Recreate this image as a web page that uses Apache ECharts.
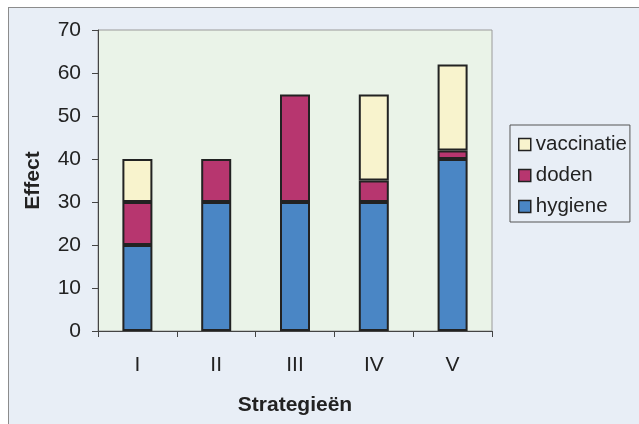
<!DOCTYPE html>
<html>
<head>
<meta charset="utf-8">
<script src="https://cdn.jsdelivr.net/npm/echarts@6/dist/echarts.min.js"></script>
<style>
  html, body { margin: 0; padding: 0; background: #ffffff; }
  #frame { position: absolute; left: 8px; top: 7px; width: 660px; height: 440px;
           background: #e8eef6; border: 1px solid #8c8c8c; box-sizing: border-box; }
  #chart { position: absolute; left: 0; top: 0; width: 639px; height: 424px; }
</style>
</head>
<body>
<div id="frame"></div>
<div id="chart"></div>
<script>
const categories = ['I', 'II', 'III', 'IV', 'V'];
const hygiene = [20, 30, 30, 30, 40];
const doden = [10, 10, 25, 5, 2];
const vaccinatie = [10, 0, 0, 20, 20];
const yTicks = { min: 0, max: 70, interval: 10 };

const FONT = "'Liberation Sans', Arial, sans-serif";
const chart = echarts.init(document.getElementById('chart'), null, { renderer: 'canvas' });

function barSeries(name, data, color) {
  return {
    name: name,
    type: 'bar',
    stack: 'total',
    data: data.map(v => v === 0 ? null : v),
    barWidth: 30,
    itemStyle: { color: color, borderColor: '#222222', borderWidth: 2 },
    emphasis: { disabled: true }
  };
}

chart.setOption({
  animation: false,
  textStyle: { fontFamily: FONT },
  grid: {
    left: 98, top: 30, width: 394, height: 301,
    show: true, backgroundColor: '#eaf3e8', borderColor: '#9a9a9a', borderWidth: 1
  },
  legend: {
    orient: 'vertical',
    left: 510, top: 125,
    data: ['vaccinatie', 'doden', 'hygiene'],
    icon: 'rect',
    itemWidth: 12, itemHeight: 12,
    itemGap: 10,
    padding: [9, 3, 5, 8],
    borderColor: '#555555', borderWidth: 1,
    backgroundColor: '#e8eef6',
    textStyle: { fontSize: 20.5, color: '#222222', fontFamily: FONT },
    itemStyle: { borderColor: '#222222', borderWidth: 1.5 }
  },
  xAxis: {
    type: 'category',
    data: categories,
    name: 'Strategieën',
    nameLocation: 'middle',
    nameGap: 64,
    nameTextStyle: { fontSize: 21, fontWeight: 'bold', color: '#222222', fontFamily: FONT },
    axisLine: { lineStyle: { color: '#444444', width: 1 } },
    axisTick: { show: true, length: 6, lineStyle: { color: '#444444' } },
    axisLabel: { fontSize: 21, color: '#222222', margin: 24, fontFamily: FONT }
  },
  yAxis: {
    type: 'value',
    min: yTicks.min, max: yTicks.max, interval: yTicks.interval,
    name: 'Effect',
    nameLocation: 'middle',
    nameRotate: 90,
    nameGap: 54,
    nameTextStyle: { fontSize: 21, fontWeight: 'bold', color: '#222222', fontFamily: FONT },
    axisLine: { show: true, lineStyle: { color: '#444444', width: 1 } },
    axisTick: { show: true, length: 6, lineStyle: { color: '#444444' } },
    axisLabel: { fontSize: 21, color: '#222222', margin: 17, fontFamily: FONT },
    splitLine: { show: false }
  },
  series: [
    barSeries('hygiene', hygiene, '#4a86c5'),
    barSeries('doden', doden, '#b7366f'),
    barSeries('vaccinatie', vaccinatie, '#f8f3cd')
  ]
});
</script>
</body>
</html>
